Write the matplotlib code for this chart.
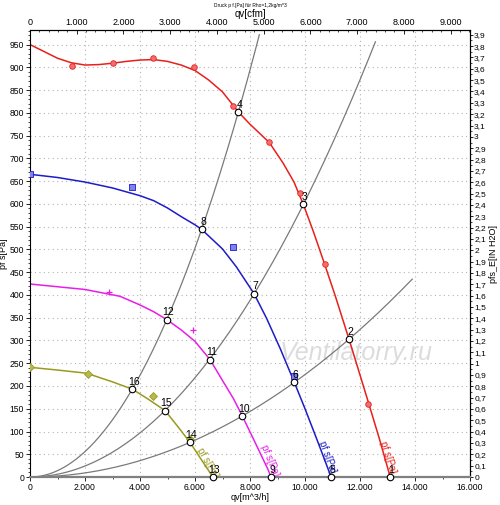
import matplotlib
matplotlib.use("Agg")
import matplotlib.pyplot as plt
import numpy as np
from matplotlib.ticker import FuncFormatter, MultipleLocator, FixedLocator

plt.rcParams['font.family'] = ['Liberation Sans', 'DejaVu Sans']

# ---- data ----
red_q = [0, 500, 1000, 1500, 2000, 2500, 3000, 3500, 4000, 4500, 5000, 5500, 6000, 6500,
         7000, 7576, 8000, 8700, 9200, 9600, 9939, 10300, 10700, 11100, 11600, 12300, 12700, 13100]
red_p = [950, 935, 920, 910, 905, 906, 909, 913, 916, 917, 913, 905, 893, 872,
         846, 802, 775, 735, 690, 648, 599, 540, 470, 398, 303, 165, 85, 0]

blue_q = [0, 1000, 2000, 3000, 4000, 4500, 5000, 5500, 6000, 6242, 7000, 7500, 8145, 8600,
          9100, 9612, 10000, 10500, 10950]
blue_p = [665, 658, 648, 635, 618, 607, 591, 572, 554, 544, 501, 462, 403, 349,
          282, 208, 150, 72, 0]

mag_q = [0, 1000, 2000, 3273, 4000, 4500, 4970, 5500, 6000, 6545, 7000, 7400, 7721, 8200, 8667, 8760]
mag_p = [424, 418, 412, 397, 378, 363, 346, 323, 298, 258, 212, 172, 134, 74, 15, 0]

oli_q = [0, 1000, 2061, 3000, 3721, 4300, 4909, 5400, 5818, 6200, 6650]
oli_p = [241, 235, 228, 209, 193, 171, 146, 109, 76, 41, 0]

red_mq = [1540, 3000, 4480, 5960, 7390, 8700, 9820, 10730, 12300]
red_mp = [902, 909, 920, 901, 814, 735, 623, 469, 160]
blue_mq = [0, 3700, 7390, 9610]
blue_mp = [665, 638, 506, 221]
mag_mq = [2885, 5915]
mag_mp = [406, 322]
oli_mq = [0, 2120, 4485, 5800]
oli_mp = [241, 226, 179, 84]

# system curves p = k * q^2
sys_k = [1.397e-5, 6.06e-6, 2.25e-6]
sys_qmax = [8340, 12560, 13900]

# operating points
pt_labels = ['1', '2', '3', '4', '5', '6', '7', '8', '9', '10', '11', '12', '13', '14', '15', '16']
pt_q = [13100, 11600, 9939, 7576, 10950, 9612, 8145, 6242, 8760, 7721, 6545, 4970, 6650, 5818, 4909, 3721]
pt_p = [0, 303, 599, 802, 0, 208, 403, 544, 0, 134, 258, 346, 0, 76, 146, 193]

curve_label = 'pf s[Pa]'
lab_q = [13000, 10820, 8710, 6460]
lab_p = [44, 44, 37, 31]
lab_rot = [-72, -70, -68, -60]

# tick values
x_ticks = [0, 2000, 4000, 6000, 8000, 10000, 12000, 14000, 16000]
cfm_ticks = [0, 1000, 2000, 3000, 4000, 5000, 6000, 7000, 8000, 9000]

RED = '#e8201c'
BLUE = '#1c1cc8'
MAG = '#e81ee8'
OLI = '#9a9a1e'
GRAY = '#7a7a7a'

fig = plt.figure(figsize=(5.0, 5.05), dpi=100)
ax = fig.add_axes([0.06, 0.0554, 0.88, 0.8852])
ax.set_xlim(0, 16000)
ax.set_ylim(0, 982)

# grid
for v in x_ticks[1:-1]:
    ax.axvline(v, color='#b4b4b4', lw=0.8, ls=(0, (1, 3)), zorder=0)
for v in range(50, 981, 50):
    ax.axhline(v, color='#b4b4b4', lw=0.8, ls=(0, (1, 3)), zorder=0)

# watermark
ax.text(11850, 272, 'Ventilatorry.ru', fontsize=18, style='italic', color='#dcdcdc',
        ha='center', va='center', zorder=0.5)

# system curves
for k, qm in zip(sys_k, sys_qmax):
    q = np.linspace(0, qm, 200)
    ax.plot(q, k * q ** 2, color=GRAY, lw=0.9, zorder=1)

# fan curves
ax.plot(red_q, red_p, color=RED, lw=1.1, zorder=2)
ax.plot(blue_q, blue_p, color=BLUE, lw=1.1, zorder=2)
ax.plot(mag_q, mag_p, color=MAG, lw=1.1, zorder=2)
ax.plot(oli_q, oli_p, color=OLI, lw=1.1, zorder=2)

ax.scatter(red_mq, red_mp, s=16, marker='o', facecolor='#f07070', edgecolor=RED, lw=0.6, zorder=3)
ax.scatter(blue_mq, blue_mp, s=16, marker='s', facecolor='#8080f0', edgecolor=BLUE, lw=0.6, zorder=3)
ax.scatter(mag_mq, mag_mp, s=20, marker='+', color=MAG, lw=0.9, zorder=3)
ax.scatter(oli_mq, oli_mp, s=16, marker='D', facecolor='#b8b850', edgecolor=OLI, lw=0.6, zorder=3)

for q, p, r, c in zip(lab_q, lab_p, lab_rot, [RED, BLUE, MAG, OLI]):
    ax.text(q, p, curve_label, color=c, fontsize=7, rotation=r, ha='center', va='center',
            rotation_mode='anchor', zorder=3)

# operating points
ax.scatter(pt_q, pt_p, s=22, marker='o', facecolor='white', edgecolor='black', lw=0.8,
           zorder=4, clip_on=False)
for lab, q, p in zip(pt_labels, pt_q, pt_p):
    ax.annotate(lab, (q, p), xytext=(1, 1.5), textcoords='offset points', ha='center',
                va='bottom', fontsize=7.5, color='black', zorder=5)

# axes styling
thousands = FuncFormatter(lambda v, pos: f"{int(round(v)):,}".replace(',', '.'))
ax.xaxis.set_major_locator(FixedLocator(x_ticks))
ax.xaxis.set_minor_locator(MultipleLocator(1000))
ax.xaxis.set_major_formatter(thousands)
ax.yaxis.set_major_locator(MultipleLocator(50))
ax.yaxis.set_minor_locator(MultipleLocator(10))
ax.tick_params(axis='both', which='major', labelsize=6.2, length=3, width=0.6, pad=1.2)
ax.tick_params(axis='both', which='minor', length=1.5, width=0.5)
ax.set_xlabel('qv[m^3/h]', fontsize=6.5, labelpad=1)
ax.set_ylabel('pf s[Pa]', fontsize=6.5, labelpad=1)
ax.spines['bottom'].set_color('#808080')
ax.spines['bottom'].set_linewidth(1.6)
for s in ['left', 'top', 'right']:
    ax.spines[s].set_linewidth(0.8)

CFM = 1.69901
top = ax.secondary_xaxis('top', functions=(lambda q: q / CFM, lambda c: c * CFM))
top.xaxis.set_major_locator(FixedLocator(cfm_ticks))
top.xaxis.set_minor_locator(FixedLocator(list(range(0, 9401, 200))))
top.xaxis.set_major_formatter(thousands)
top.tick_params(axis='x', which='major', direction='in', labelsize=6.5, length=3, width=0.6, pad=2.5)
top.tick_params(axis='x', which='minor', direction='in', length=1.5, width=0.5)
top.set_xlabel('qv[cfm]', fontsize=7, labelpad=0.5)

INH2O = 249.089
right = ax.secondary_yaxis('right', functions=(lambda p: p / INH2O, lambda i: i * INH2O))
in_ticks = [i / 10 for i in range(0, 40)]
right.yaxis.set_major_locator(FixedLocator(in_ticks))
right.yaxis.set_minor_locator(FixedLocator([i / 20 for i in range(0, 79)]))

def fmt_in(v, pos):
    r = round(v, 1)
    if abs(r - round(r)) < 1e-9:
        return str(int(round(r)))
    return f"{r:.1f}".replace('.', ',')

right.yaxis.set_major_formatter(FuncFormatter(fmt_in))
right.tick_params(axis='y', which='major', labelsize=6, length=2.5, width=0.6, pad=0.5)
right.tick_params(axis='y', which='minor', length=1.5, width=0.5)
right.set_ylabel('pfs_E[IN H2O]', fontsize=6.5, labelpad=2)

fig.text(0.5, 0.99, 'Druck p f.[Pa] für Rho=1,2kg/m^3', fontsize=3.5, ha='center', va='center')

fig.savefig('out.png', dpi=100)
